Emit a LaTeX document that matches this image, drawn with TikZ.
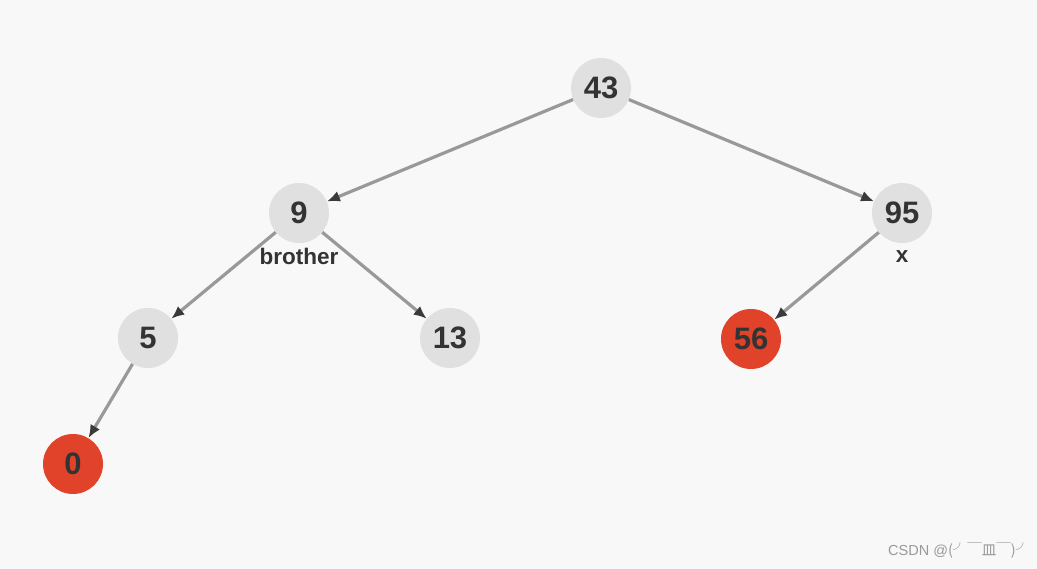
\documentclass[tikz,border=0pt]{standalone}
\usepackage{fontspec}
\setmainfont{Liberation Sans}
\newfontfamily\cjk{Noto Sans CJK SC}
\usetikzlibrary{arrows.meta}
\definecolor{bgc}{HTML}{F8F8F8}
\definecolor{nodegray}{HTML}{E0E0E0}
\definecolor{nodered}{HTML}{E0432A}
\definecolor{txt}{HTML}{333333}
\definecolor{edgec}{HTML}{999999}
\definecolor{tipc}{HTML}{3A3A3A}
\begin{document}
\begin{tikzpicture}[x=1pt,y=-1pt,
  tnode/.style={circle,minimum size=60pt,inner sep=0pt,fill=nodegray,text=txt,font=\fontsize{31}{31}\selectfont\bfseries},
  rnode/.style={tnode,fill=nodered},
  lbl/.style={text=txt,font=\fontsize{22.5}{22.5}\selectfont\bfseries,inner sep=0pt},
  edge/.style={draw=edgec,line width=3.2pt,-{Latex[length=13pt,width=11pt,color=tipc]}}]
\fill[bgc] (0,0) rectangle (1037,569);
\useasboundingbox (0,0) rectangle (1037,569);
\node[tnode] (n43) at (601,88) {43};
\node[tnode] (n9) at (299,213) {9};
\node[tnode] (n95) at (902,213) {95};
\node[tnode] (n5) at (148,338) {5};
\node[tnode] (n13) at (450,338) {13};
\node[rnode] (n56) at (751,339) {56};
\node[rnode] (n0) at (73,464) {0};
\node[lbl] (lb) at (299,256) {brother};
\node[lbl] (lx) at (902,257) {x};
\draw[edge] (n43) -- (n9);
\draw[edge] (n43) -- (n95);
\draw[edge] (n9) -- (n5);
\draw[edge] (n9) -- (n13);
\draw[edge] (n95) -- (n56);
\draw[edge] (n5) -- (n0);
\node[text=edgec,font=\fontsize{14.5}{14.5}\selectfont,inner sep=0pt,anchor=west] (wm) at (888,551) {CSDN @{\cjk (╯￣皿￣)╯}};
\end{tikzpicture}
\end{document}
